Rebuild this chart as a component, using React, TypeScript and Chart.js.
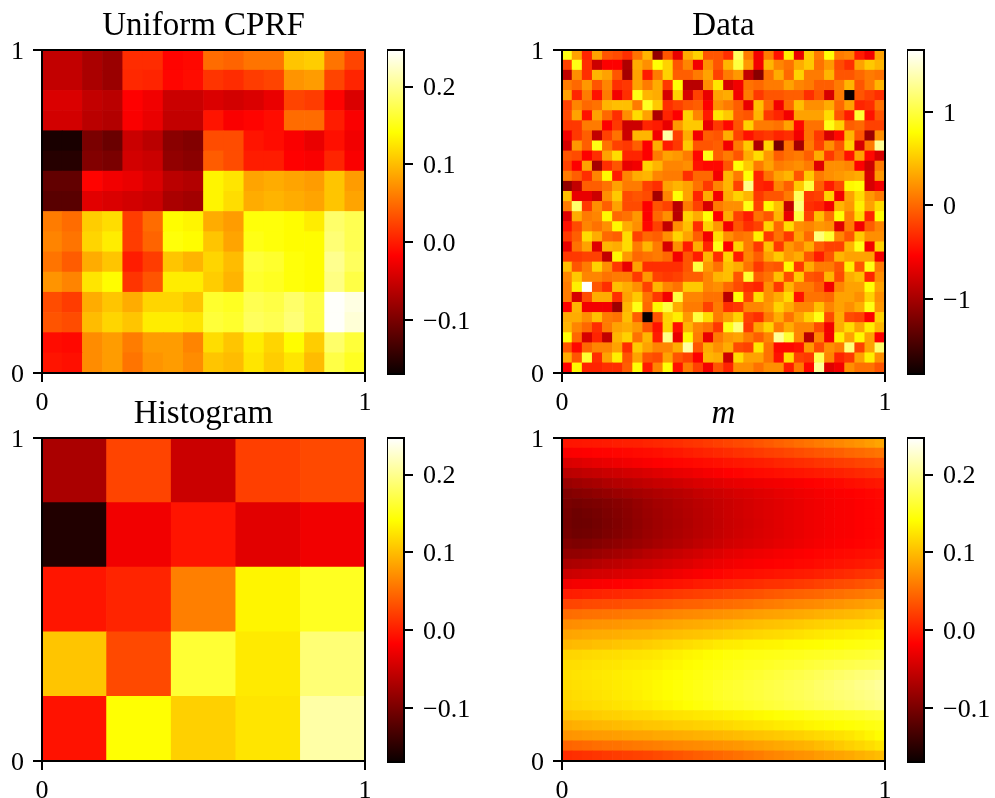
import React, { useEffect, useRef } from "react";
import { Chart, registerables } from "chart.js";

Chart.register(...registerables);

const titles = ["Uniform CPRF", "Data", "Histogram", "m"];
const axisTicks = [0, 1];
const cbarTicksModel = [-0.1, 0, 0.1, 0.2];
const cbarTicksData = [-1, 0, 1];
const modelRange = [-0.169, 0.247];
const dataRange = [-1.8, 1.66];
const hotStops: [number, string][] = [
  [0, "rgb(10,0,0)"],
  [0.365, "rgb(255,0,0)"],
  [0.746, "rgb(255,255,0)"],
  [1, "rgb(255,255,255)"],
];

// Values, top row first.
const cprfRows = [
  [-.055,-.055,-.07,-.08,.01,.01,-.015,-.012,.05,.045,.055,.055,.105,.11,.055,.025],
  [-.055,-.055,-.07,-.08,.008,.005,-.014,-.01,.015,.01,.02,.025,.075,.08,.025,.005],
  [-.04,-.04,-.055,-.06,-.017,-.025,-.05,-.05,-.04,-.045,-.04,-.03,.025,.02,-.015,-.04],
  [-.045,-.045,-.06,-.065,-.02,-.03,-.055,-.055,-.005,-.02,-.015,-.01,.05,.05,0,-.02],
  [-.16,-.16,-.1,-.11,-.05,-.06,-.09,-.095,.03,.03,-.005,-.01,-.02,-.03,-.008,-.025],
  [-.152,-.152,-.095,-.1,-.045,-.05,-.085,-.09,.04,.03,0,0,-.017,-.02,.005,-.02],
  [-.115,-.115,-.015,-.025,-.03,-.04,-.06,-.065,.135,.125,.085,.09,.085,.08,.105,.08],
  [-.12,-.12,-.035,-.04,-.045,-.05,-.07,-.075,.135,.12,.09,.095,.09,.085,.105,.085],
  [.06,.05,.11,.12,.02,.05,.14,.135,.09,.08,.145,.145,.14,.13,.185,.175],
  [.065,.055,.115,.13,.02,.045,.145,.14,.105,.085,.15,.145,.14,.14,.19,.175],
  [.055,.04,.09,.105,0,.02,.105,.095,.115,.1,.165,.16,.145,.14,.2,.18],
  [.075,.065,.125,.14,.015,.035,.13,.13,.11,.095,.16,.155,.145,.14,.195,.17],
  [.03,.02,.09,.105,.09,.115,.115,.105,.16,.155,.175,.17,.185,.17,.245,.235],
  [.035,.03,.1,.115,.105,.13,.13,.125,.165,.16,.18,.175,.19,.17,.245,.23],
  [-.01,-.012,.07,.08,.06,.08,.08,.065,.12,.105,.13,.115,.14,.11,.185,.165],
  [-.005,-.008,.07,.08,.055,.075,.08,.07,.105,.1,.125,.11,.125,.1,.17,.155],
];

const dataRows = [
  [.85,.3,-.35,.3,-.1,-.15,-.3,.05,.4,-1.1,-.1,-.65,.35,.55,-.1,-.1,-.3,1.1,.1,-.6,.1,-.45,.7,-.65,.5,.1,.8,.1,.15,-.4,-.6,.3],
  [-.2,.85,-.3,-.8,-.55,-.55,-.95,.35,.2,.8,.55,-.1,.15,-.6,.2,-.1,.4,1.0,.25,-.6,.4,.15,.05,.35,.5,.05,.25,-.15,-.3,.3,.5,.4],
  [-.85,.2,-.3,.4,.3,-.1,-1.0,.3,-.4,.1,.55,-.05,-.05,.1,.3,-.2,.1,.25,-.85,-1.15,.05,.35,0,.55,.1,.1,.4,-.1,-.1,0,.1,.05],
  [.1,0,.25,-.1,.15,-.3,-.25,.3,.1,.35,-.25,.8,-.9,-.9,.2,.65,-.75,-.6,.05,0,.1,.1,.3,.15,.1,-.05,-.05,.1,.4,-.1,.1,.4],
  [.3,-.35,.1,-.45,.1,-.6,-.3,.85,.4,.35,-.75,.55,-.75,-.2,-.65,.3,.35,-.6,.1,-.25,-.1,-.1,-.05,-.05,-.3,-.1,-.75,.1,-1.8,-.1,-.2,-.3],
  [-.2,.15,0,.05,.4,.45,.45,.1,.9,.5,-.3,-.2,-.1,-.05,-.55,.2,.1,-.05,-.65,.45,0,-.6,0,.45,.2,.2,.35,0,.3,-.35,-.3,.05],
  [-.15,.3,-.45,.3,0,-.3,.2,.6,.3,-.95,-.35,-.55,.55,.15,-.4,.65,.5,-.05,-.1,.4,-.25,-.35,-.6,.3,.3,.3,.6,-.1,-.4,.95,-.45,-.1],
  [-.25,-.25,.1,.1,-.55,-.25,-.8,-.8,-.35,-.4,-.65,.25,.5,.5,-.65,-.25,-.5,-.1,.55,.1,.1,.05,.3,-.5,.05,.05,.85,.55,-.05,0,-.2,-.2],
  [-.6,-.25,-.05,-.85,-.2,.05,-.8,.4,.4,-.6,1.35,-.2,.35,-.6,-.05,-.1,.35,-.2,-.45,-.3,-.25,-.35,-.3,-.6,.05,-.25,-.75,-.5,.4,-.1,-1.05,.2],
  [-.75,.25,-.05,.85,.05,-.2,-.25,-.05,-.55,.35,-.4,-.25,.5,-.1,-.1,-.05,-.6,.1,.5,-.95,.55,-1.25,.05,-1.0,.1,-.2,.2,-.1,.55,-.75,.1,1.3],
  [-.1,-.15,-.55,-.3,.3,.6,-.35,-.35,-.55,.1,.3,.25,.1,-.5,.85,-.05,.1,-.1,.35,.6,.25,-.05,.05,.1,-.05,.35,-.25,0,-.45,.3,-.5,-.75],
  [-.2,-.55,.3,-1.0,-.3,-.1,-.65,-.6,.55,.4,.15,.15,.2,-.45,-.5,-.5,-.1,.8,.5,.1,.3,.1,.15,.2,.1,-.7,.2,.2,.15,-.55,-.8,.1],
  [.1,-.05,-.3,.15,.75,-.4,.15,.35,.4,.15,.1,.1,-.3,0,0,-.6,.4,.1,.8,-.35,.05,.3,.4,-.1,.5,.1,.2,.25,.3,.35,-.75,.25],
  [-1.1,-.85,-.05,-.05,.05,.3,.1,.1,-.2,-.3,.3,.4,.3,.05,-.25,.15,.4,-.2,1.25,-.35,-.4,.15,-.05,.5,1.0,-.05,-.4,-.15,.75,.8,-.75,-.6],
  [.45,-.65,-.65,-.8,.2,.5,-.15,-.1,-.15,-1.0,.15,.8,.3,-.35,.35,-.6,.35,.55,.4,-.25,-.1,-.1,.1,1.1,-.25,-.2,.55,-.6,.3,.6,.25,.1],
  [.1,1.15,-.25,.2,-.05,.3,-.15,-.15,-.55,-.1,-.2,-.9,.1,-.2,-.75,.1,.2,.2,.85,-.2,.75,.45,-.85,1.2,-.3,-.35,-.6,.4,.25,.7,.3,.6],
  [-.7,.35,.1,.15,.75,0,.05,.25,-.55,0,.2,-.9,.55,.35,.8,-.55,.35,-.2,-.4,.05,-.1,.4,-.65,1.0,-.2,.45,.05,.8,.1,.6,-.35,.8],
  [-.45,-.15,.15,.05,.2,.75,.35,.2,-.5,-.2,-.85,.2,.45,-.3,.55,.25,-.6,-.1,-.3,-.2,.55,0,.6,.2,.15,.25,.2,-.7,.1,-.6,-.05,.15],
  [-.25,-.05,.6,.35,0,-.05,.6,-.2,0,-.05,.2,.55,.3,-.05,-.6,.6,.2,.05,.1,.7,-.25,.05,-.25,.3,0,1.2,.95,.15,-.1,.5,.2,.2],
  [-.65,.05,.3,-.7,.4,.35,.6,.1,.4,.1,-.75,.2,-.4,.35,-.35,.85,-.55,.55,.1,-.25,.45,-.25,.25,.1,.35,-.05,-.2,-.2,.4,.85,-.6,.55],
  [-.25,-.25,-.2,-.2,-.85,.75,.25,0,.05,.1,0,-.6,-.1,-.4,.4,-.3,.55,-.4,.15,-.05,.3,.5,.25,.35,-.1,-.4,-.1,.4,.3,.3,.3,-.6],
  [.45,-.1,.1,.55,.2,-.25,-.65,.3,-.3,-.3,-.3,-.3,-.1,1.0,.25,.05,.45,.35,.05,-.25,-.05,-.1,.75,-.25,.35,.1,.1,-.1,.7,-.1,.85,.1],
  [.15,.5,.15,.15,.05,.1,.1,-.25,.25,-.2,-.25,-.2,-.05,-.05,.15,.4,.45,-.1,.95,-.05,.05,.45,-.15,.5,-.1,-.15,.4,-.15,.35,.45,-.35,.2],
  [.1,.7,1.65,-.1,-.3,.45,.35,.2,-.2,.4,.15,.05,.5,.5,.15,.2,0,-.15,-.3,-.35,.2,-.25,.4,.1,.1,-.05,-.6,.15,.3,.3,.8,.3],
  [.1,-.75,-.15,.35,.35,-.3,.3,.5,.05,-.25,-.6,1.0,.15,.15,.05,.05,-.9,.8,-.2,.6,.2,.35,.6,-.45,.05,.05,0,.3,.3,.2,.55,.2],
  [-.55,.4,-.6,-.6,-.6,-1.05,.4,.85,0,.75,1.0,.35,.1,.1,-.2,.1,-.3,-.25,.15,.15,.25,.55,.35,.15,.15,.45,.15,.3,.2,.35,.85,.25],
  [.35,.35,.2,.45,.1,.05,.45,-.05,-1.8,-.1,.55,.7,.25,1.0,.6,.1,.3,.55,-.2,-.3,.1,.35,.05,.3,.55,.85,-.15,.35,-.15,-.2,-.55,.55],
  [.4,.15,0,-.3,.1,.3,.35,.25,-.1,-.45,.55,-.45,.4,.15,.05,-.25,.85,1.2,-.25,.3,.55,.1,.35,.15,.15,-.15,-.6,.35,.6,.3,.7,.4],
  [.8,0,-.75,-.35,-.85,.4,.55,.05,.4,-.4,1.25,-.65,.75,.1,-.65,.1,.25,.3,.1,-.05,.15,1.3,.95,.15,-.9,.15,-.6,.7,.3,.75,.3,-.55],
  [-.1,-.5,0,.15,.15,.3,-.3,.5,.3,.15,.15,.35,1.35,-.1,.35,.2,.35,-.15,-.2,.65,.05,-.5,-.5,-.45,.25,-.15,.2,.1,1.2,-.2,.3,1.15],
  [.35,-.1,.95,-.3,.3,.7,-.1,.3,-.1,-.15,.3,-.1,-.2,-.55,.4,.35,-.8,.6,.3,.3,.05,-.45,.6,-.2,-.25,1.05,.15,-.35,-.25,.3,.7,.2],
  [-.55,.75,-.35,-.35,-.3,-.3,-.05,.8,-.4,.15,.8,-.45,.1,-.2,-.6,-.1,-.35,.2,.2,.05,.2,.2,-.4,.1,-.5,1.3,-.7,-.6,.2,.05,.05,-.1],
];

const histogramRows = [
  [-.07,.025,-.05,.022,.028],
  [-.155,-.025,-.005,-.035,-.025],
  [-.004,.005,.062,.135,.155],
  [.105,.028,.163,.128,.19],
  [-.006,.142,.112,.125,.21],
];

// Thousandths, top row first.
const modelRowsMilli = [
  [-5,-4,-3,-2,-1,1,2,3,5,7,9,11,14,16,19,22,25,28,31,35,39,43,47,51,55,59,63,67,71,75,80,85],
  [-20,-19,-18,-16,-15,-14,-13,-11,-10,-8,-5,-3,0,3,5,8,10,13,16,19,22,24,27,30,33,36,39,42,46,49,52,55],
  [-40,-38,-35,-33,-30,-28,-25,-23,-20,-18,-16,-14,-13,-11,-9,-7,-5,-3,-1,1,3,6,8,10,12,15,17,20,22,25,27,30],
  [-60,-58,-55,-53,-50,-48,-45,-43,-40,-37,-34,-31,-29,-26,-23,-20,-17,-15,-13,-11,-10,-8,-6,-5,-3,-1,1,3,5,8,10,12],
  [-80,-77,-74,-71,-67,-64,-61,-58,-55,-52,-50,-47,-44,-41,-38,-36,-33,-31,-29,-27,-25,-24,-22,-20,-18,-16,-14,-12,-9,-7,-5,-3],
  [-95,-92,-89,-86,-83,-79,-76,-73,-70,-67,-64,-61,-58,-54,-51,-48,-45,-42,-40,-37,-35,-32,-30,-27,-25,-23,-21,-19,-18,-16,-14,-12],
  [-100,-102,-100,-98,-95,-92,-88,-83,-78,-74,-71,-67,-64,-60,-57,-53,-50,-47,-44,-41,-38,-36,-33,-30,-27,-25,-23,-21,-20,-18,-16,-14],
  [-103,-107,-105,-102,-98,-94,-90,-85,-80,-76,-72,-69,-65,-61,-58,-54,-50,-47,-44,-41,-38,-36,-33,-30,-27,-25,-23,-21,-20,-18,-16,-14],
  [-104,-108,-107,-104,-100,-96,-91,-86,-81,-77,-73,-70,-66,-62,-59,-55,-51,-48,-45,-42,-39,-36,-33,-30,-27,-25,-23,-21,-20,-18,-16,-14],
  [-102,-106,-105,-102,-98,-94,-90,-85,-80,-76,-72,-69,-65,-61,-58,-54,-50,-47,-44,-41,-38,-36,-33,-30,-27,-25,-23,-21,-20,-18,-16,-14],
  [-95,-97,-96,-93,-90,-87,-83,-80,-76,-72,-68,-65,-61,-57,-53,-50,-46,-43,-41,-38,-36,-33,-31,-28,-25,-23,-21,-19,-18,-16,-14,-12],
  [-85,-85,-83,-80,-77,-74,-71,-67,-62,-59,-55,-52,-48,-45,-41,-38,-34,-32,-29,-27,-25,-23,-21,-19,-17,-15,-14,-12,-11,-9,-8,-6],
  [-70,-68,-66,-63,-60,-58,-55,-52,-50,-47,-44,-41,-38,-34,-31,-28,-25,-23,-21,-19,-18,-16,-15,-13,-12,-10,-8,-6,-4,-2,0,2],
  [-50,-48,-46,-44,-43,-41,-39,-37,-35,-32,-29,-26,-23,-20,-18,-15,-12,-10,-9,-7,-6,-4,-3,-1,0,3,5,8,10,13,15,18],
  [-25,-23,-22,-20,-19,-17,-16,-14,-12,-10,-8,-6,-4,-1,1,3,5,7,9,11,13,14,16,18,20,23,26,29,31,34,37,40],
  [0,1,3,4,6,7,9,10,12,14,16,18,20,22,24,26,28,30,32,34,37,39,41,43,45,47,50,52,55,57,60,62],
  [25,26,28,29,30,31,33,34,35,37,39,41,43,44,46,48,50,52,54,57,59,61,64,66,68,70,73,75,78,80,83,85],
  [50,51,53,54,55,56,58,59,60,62,64,66,68,69,71,73,75,77,79,81,83,84,86,88,90,92,94,96,98,100,103,105],
  [70,71,73,74,75,76,78,79,80,82,84,86,88,89,91,93,95,97,99,101,103,104,106,108,110,112,114,115,117,118,120,122],
  [85,86,88,89,90,91,93,94,95,97,99,101,103,104,106,108,110,112,114,116,118,119,121,123,125,127,129,130,132,133,135,137],
  [97,99,100,102,103,105,107,108,110,113,115,118,120,123,125,128,130,131,133,134,135,136,138,139,140,141,143,144,146,147,149,150],
  [115,116,118,119,120,121,123,124,125,127,130,132,135,137,140,142,145,146,148,149,150,151,152,153,155,156,157,158,160,161,163,165],
  [120,121,123,124,125,126,128,129,130,132,135,137,140,142,145,147,150,152,154,155,157,159,161,162,165,167,169,171,173,175,176,178],
  [122,124,125,127,128,130,132,133,135,137,140,142,145,147,150,152,155,157,160,162,165,167,170,172,175,178,181,184,187,190,192,195],
  [120,122,124,125,127,129,131,133,135,138,141,144,147,150,153,157,160,162,165,167,170,172,175,177,180,184,187,191,194,198,201,205],
  [118,120,122,124,126,128,130,132,135,138,141,144,147,150,153,157,160,162,165,167,170,172,175,177,180,183,186,189,191,194,197,200],
  [115,117,119,120,122,124,126,128,130,133,136,139,142,145,148,152,155,157,160,162,165,167,170,172,175,178,180,183,186,189,192,195],
  [105,107,108,110,112,113,115,117,118,120,122,124,125,127,128,130,132,134,136,138,140,143,145,147,150,152,154,156,158,160,163,165],
  [90,92,94,96,97,99,101,103,105,106,108,110,111,113,114,116,118,120,122,124,126,128,130,132,135,137,139,141,143,145,148,150],
  [75,76,78,79,80,81,83,84,85,87,88,90,91,93,94,96,98,100,102,104,106,108,110,112,115,118,120,123,126,130,135,140],
  [45,47,49,51,53,54,56,58,60,62,64,66,68,69,71,73,75,77,80,82,85,87,90,92,95,99,103,108,112,116,120,125],
  [10,12,14,16,18,20,22,24,26,29,32,35,38,41,44,47,50,53,57,60,64,67,70,73,75,79,82,85,88,92,96,100],
];

const serif = "'Liberation Serif', serif";
const TICK_SIZE = 26;
const TITLE_SIZE = 33;

function hot(v: number, range: number[]) {
  const t = Math.min(1, Math.max(0, (v - range[0]) / (range[1] - range[0])));
  const c = (x: number) => Math.round(255 * Math.min(1, Math.max(0, x)));
  return `rgb(${c(0.0416 + (t * 0.9584) / 0.365)},${c((t - 0.365) / 0.381)},${c((t - 0.746) / 0.254)})`;
}

const frame = {
  id: "frame",
  afterDatasetsDraw(chart: any) {
    const { ctx, chartArea: a } = chart;
    ctx.save();
    ctx.strokeStyle = "#000";
    ctx.lineWidth = 2;
    ctx.strokeRect(a.left, a.top, a.right - a.left, a.bottom - a.top);
    ctx.restore();
  },
};

function tickLabel(v: number, decimals: number) {
  const s = Math.abs(v).toFixed(decimals);
  return v < -1e-9 ? "\u2212" + s : s;
}

function heatChart(canvas: HTMLCanvasElement, rows: number[][], range: number[], title: string) {
  const ny = rows.length;
  const nx = rows[0].length;
  const cells: any[] = [];
  const colors: string[] = [];
  rows.forEach((row, r) =>
    row.forEach((v, c) => {
      cells.push({ x: (c + 0.5) / nx, y: [1 - (r + 1) / ny, 1 - r / ny] });
      colors.push(hot(v, range));
    })
  );
  const axisTicksFor = (s: any) => {
    s.ticks = axisTicks.map((value) => ({ value }));
  };
  const common = {
    type: "linear",
    min: 0,
    max: 1,
    offset: false,
    afterBuildTicks: axisTicksFor,
    border: { display: false },
    grid: { offset: false, drawOnChartArea: false, drawTicks: true, tickLength: 9, tickColor: "#000", lineWidth: 2 },
  };
  return new Chart(canvas, {
    type: "bar",
    data: {
      datasets: [
        {
          data: cells,
          backgroundColor: colors,
          borderWidth: 0,
          barPercentage: 1,
          categoryPercentage: 1,
        },
      ],
    },
    plugins: [frame],
    options: {
      animation: false,
      responsive: false,
      devicePixelRatio: 1,
      layout: { padding: { right: 20 } },
      plugins: {
        legend: { display: false },
        tooltip: { enabled: false },
        title: {
          display: true,
          text: title,
          fullSize: false,
          color: "#000",
          font: { family: serif, size: TITLE_SIZE, weight: "normal", style: title === "m" ? "italic" : "normal", lineHeight: 1.2 },
          padding: { top: 7, bottom: 50 - 7 - TITLE_SIZE * 1.2 },
        },
      },
      scales: {
        x: {
          ...common,
          afterFit(s: any) {
            s.height = 37;
            s.paddingLeft = 0;
            s.paddingRight = 0;
          },
          ticks: { color: "#000", padding: 6, maxRotation: 0, autoSkip: false, font: { family: serif, size: TICK_SIZE }, callback: (v: any) => String(v) },
        },
        y: {
          ...common,
          afterFit(s: any) {
            s.width = 42;
            s.paddingTop = 0;
            s.paddingBottom = 0;
          },
          ticks: { color: "#000", padding: 9, labelOffset: 2, autoSkip: false, font: { family: serif, size: TICK_SIZE }, callback: (v: any) => String(v) },
        },
      },
    },
  } as any);
}

function barChart(canvas: HTMLCanvasElement, range: number[], ticks: number[], decimals: number) {
  return new Chart(canvas, {
    type: "bar",
    data: {
      labels: ["colorbar"],
      datasets: [
        {
          data: [[range[0], range[1]]],
          borderWidth: 0,
          barPercentage: 1,
          categoryPercentage: 1,
          backgroundColor: (c: any) => {
            const a = c.chart.chartArea;
            if (!a) return "#000";
            const g = c.chart.ctx.createLinearGradient(0, a.bottom, 0, a.top);
            hotStops.forEach(([p, col]) => g.addColorStop(p, col));
            return g;
          },
        },
      ],
    },
    plugins: [frame],
    options: {
      animation: false,
      responsive: false,
      devicePixelRatio: 1,
      layout: { padding: { top: 15, bottom: 15 } },
      plugins: { legend: { display: false }, tooltip: { enabled: false }, title: { display: false } },
      scales: {
        x: { display: false },
        y: {
          position: "right",
          min: range[0],
          max: range[1],
          afterBuildTicks(s: any) {
            s.ticks = ticks.map((value) => ({ value }));
          },
          afterFit(s: any) {
            s.width = 75;
            s.paddingTop = 0;
            s.paddingBottom = 0;
          },
          border: { display: false },
          grid: { drawOnChartArea: false, drawTicks: true, tickLength: 9, tickColor: "#000", lineWidth: 2 },
          ticks: { color: "#000", padding: 10, labelOffset: 2, autoSkip: false, font: { family: serif, size: TICK_SIZE }, callback: (v: any) => tickLabel(v, decimals) },
        },
      },
    },
  } as any);
}

const panels = [
  { left: 42, top: 50, rows: cprfRows, range: modelRange, ticks: cbarTicksModel, decimals: 1, title: titles[0] },
  { left: 562, top: 50, rows: dataRows, range: dataRange, ticks: cbarTicksData, decimals: 0, title: titles[1] },
  { left: 42, top: 438, rows: histogramRows, range: modelRange, ticks: cbarTicksModel, decimals: 1, title: titles[2] },
  { left: 562, top: 438, rows: modelRowsMilli.map((r) => r.map((v) => v / 1000)), range: modelRange, ticks: cbarTicksModel, decimals: 1, title: titles[3] },
];

export default function App() {
  const refs = useRef<(HTMLCanvasElement | null)[]>([]);
  useEffect(() => {
    const charts: Chart[] = [];
    panels.forEach((p, i) => {
      charts.push(heatChart(refs.current[i * 2]!, p.rows, p.range, p.title));
      charts.push(barChart(refs.current[i * 2 + 1]!, p.range, p.ticks, p.decimals));
    });
    return () => charts.forEach((c) => c.destroy());
  }, []);
  return (
    <div style={{ position: "fixed", left: 0, top: 0, width: 995, height: 798, overflow: "hidden", background: "#fff" }}>
      {panels.map((p, i) => (
        <React.Fragment key={p.title}>
          <canvas
            ref={(el) => {
              refs.current[i * 2] = el;
            }}
            width={385}
            height={410}
            style={{ position: "absolute", left: p.left - 42, top: p.top - 50, display: "block" }}
          />
          <canvas
            ref={(el) => {
              refs.current[i * 2 + 1] = el;
            }}
            width={92}
            height={354}
            style={{ position: "absolute", left: p.left + 345, top: p.top - 15, display: "block" }}
          />
        </React.Fragment>
      ))}
    </div>
  );
}
